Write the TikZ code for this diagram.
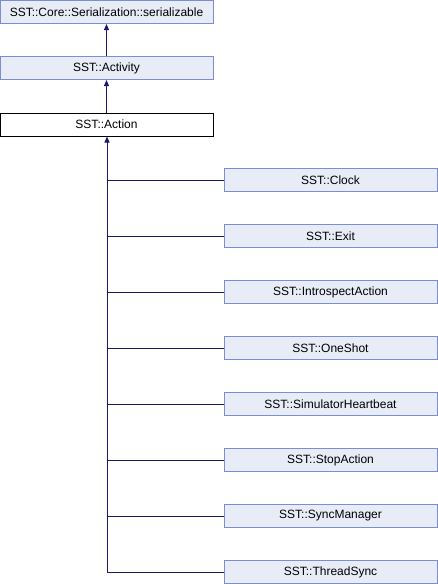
\documentclass[tikz,border=0pt]{standalone}
\usepackage{fontspec}
\setmainfont{Liberation Sans}
\usetikzlibrary{arrows.meta}
\definecolor{boxfill}{HTML}{E8ECF6}
\definecolor{boxline}{HTML}{7A8FCB}
\definecolor{edge}{HTML}{191970}
\begin{document}
\begin{tikzpicture}[x=1pt,y=-1pt,
  cls/.style={draw=boxline,fill=boxfill,line width=1pt,minimum width=213pt,minimum height=23pt,inner sep=0pt,font=\fontsize{12}{14}\selectfont},
  cur/.style={cls,draw=black,fill=white},
  inh/.style={draw=edge,line width=1pt,-{Triangle[length=6pt,width=5pt]}}]
\useasboundingbox (0,0) rectangle (438,584);
\node[cls] (ser) at (106.5,12) {SST::Core::Serialization::serializable};
\node[cls] (act) at (106.5,68) {SST::Activity};
\node[cur] (action) at (106.5,124.5) {SST::Action};
\foreach \n/\t [count=\i from 0] in {clock/Clock,exit/Exit,intro/IntrospectAction,oneshot/OneShot,heart/SimulatorHeartbeat,stop/StopAction,syncm/SyncManager,thread/ThreadSync}{
  \node[cls] (\n) at (330.5,180+56*\i) {SST::\t};
}
\draw[inh] (act) -- (ser);
\draw[inh] (action) -- (act);
\coordinate (bend) at (107,572);
\draw[inh] (thread.west) -- (bend) -- (action.south -| bend);
\foreach \n in {clock,exit,intro,oneshot,heart,stop,syncm}{
  \draw[draw=edge,line width=1pt] (\n.west) -- (\n.west -| bend);
}
\end{tikzpicture}
\end{document}
